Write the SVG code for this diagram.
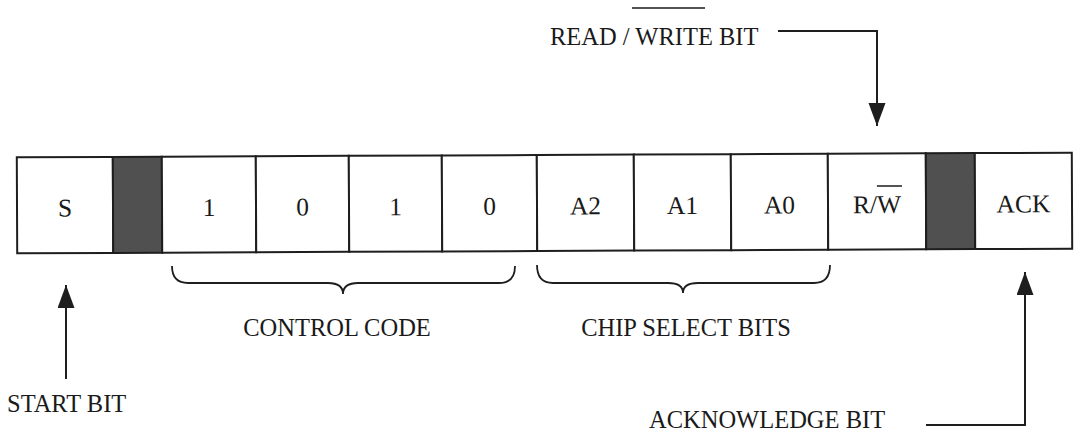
<svg xmlns="http://www.w3.org/2000/svg" width="1076" height="434" viewBox="0 0 1076 434">
<style>
.cell{fill:#ffffff;stroke:#1e1e1e;stroke-width:2}
.dark{fill:#505050;stroke:#1e1e1e;stroke-width:2}
.ct{font-family:"Liberation Serif","Times New Roman",serif;font-size:25.5px;fill:#1a1a1a;text-anchor:middle}
.lbl{font-family:"Liberation Serif","Times New Roman",serif;font-size:24.5px;fill:#1a1a1a}
.ln{fill:none;stroke:#1e1e1e;stroke-width:2}
.br{fill:none;stroke:#1e1e1e;stroke-width:1.8}
</style>
<defs>
<marker id="ah" markerUnits="userSpaceOnUse" markerWidth="24" markerHeight="18" refX="23" refY="8.5" orient="auto">
<path d="M0,0 L23,8.5 L0,17 z" fill="#1e1e1e"/>
</marker>
</defs>
<rect width="1076" height="434" fill="#ffffff"/>
<g id="row" transform="rotate(-0.25 544 203)">
<g id="cell-s"><rect class="cell" x="17" y="155" width="96" height="96"/><text class="ct" x="65" y="214.5">S</text></g>
<g id="cell-gap1"><rect class="dark" x="113" y="155" width="49" height="96"/></g>
<g id="cell-c3"><rect class="cell" x="162" y="155" width="94" height="96"/><text class="ct" x="209" y="214.5">1</text></g>
<g id="cell-c2"><rect class="cell" x="256" y="155" width="93" height="96"/><text class="ct" x="302.5" y="214.5">0</text></g>
<g id="cell-c1"><rect class="cell" x="349" y="155" width="93" height="96"/><text class="ct" x="395.5" y="214.5">1</text></g>
<g id="cell-c0"><rect class="cell" x="442" y="155" width="95" height="96"/><text class="ct" x="489.5" y="214.5">0</text></g>
<g id="cell-a2"><rect class="cell" x="537" y="155" width="97" height="96"/><text class="ct" x="585.5" y="214.5">A2</text></g>
<g id="cell-a1"><rect class="cell" x="634" y="155" width="97" height="96"/><text class="ct" x="682.5" y="214.5">A1</text></g>
<g id="cell-a0"><rect class="cell" x="731" y="155" width="97" height="96"/><text class="ct" x="779.5" y="214.5">A0</text></g>
<g id="cell-rw"><rect class="cell" x="828" y="155" width="98" height="96"/><text class="ct" x="877" y="214.5">R/W</text><line x1="877" y1="187.5" x2="902" y2="187.5" stroke="#1a1a1a" stroke-width="1.6"/></g>
<g id="cell-gap2"><rect class="dark" x="926" y="155" width="49" height="96"/></g>
<g id="cell-ack"><rect class="cell" x="975" y="155" width="97" height="96"/><text class="ct" x="1023.5" y="214.5">ACK</text></g>
</g>
<g id="braces">
<path class="br" d="M172,266 Q172,283 188,283 L328,283 Q343,283 343,294 Q343,283 358,283 L499,283 Q515,283 515,266"/>
<path class="br" d="M537,265 Q537,283 553,283 L668,283 Q683,283 683,293 Q683,283 698,283 L814,283 Q830,283 830,265"/>
</g>
<g id="labels">
<g id="lbl-rw"><text class="lbl" x="550" y="45">READ / WRITE BIT</text><line x1="632" y1="8" x2="705" y2="8" stroke="#1a1a1a" stroke-width="1.6"/></g>
<g id="lbl-start"><text class="lbl" x="7" y="412">START BIT</text></g>
<g id="lbl-control"><text class="lbl" x="337" y="336" text-anchor="middle">CONTROL CODE</text></g>
<g id="lbl-chip"><text class="lbl" x="686" y="336" text-anchor="middle">CHIP SELECT BITS</text></g>
<g id="lbl-ack"><text class="lbl" x="649" y="428">ACKNOWLEDGE BIT</text></g>
</g>
<g id="connectors">
<path class="ln" d="M778,31 L877,31 L877,126" marker-end="url(#ah)"/>
<path class="ln" d="M66,379 L66,285" marker-end="url(#ah)"/>
<path class="ln" d="M926,425 L1025,425 L1025,272" marker-end="url(#ah)"/>
</g>
</svg>
